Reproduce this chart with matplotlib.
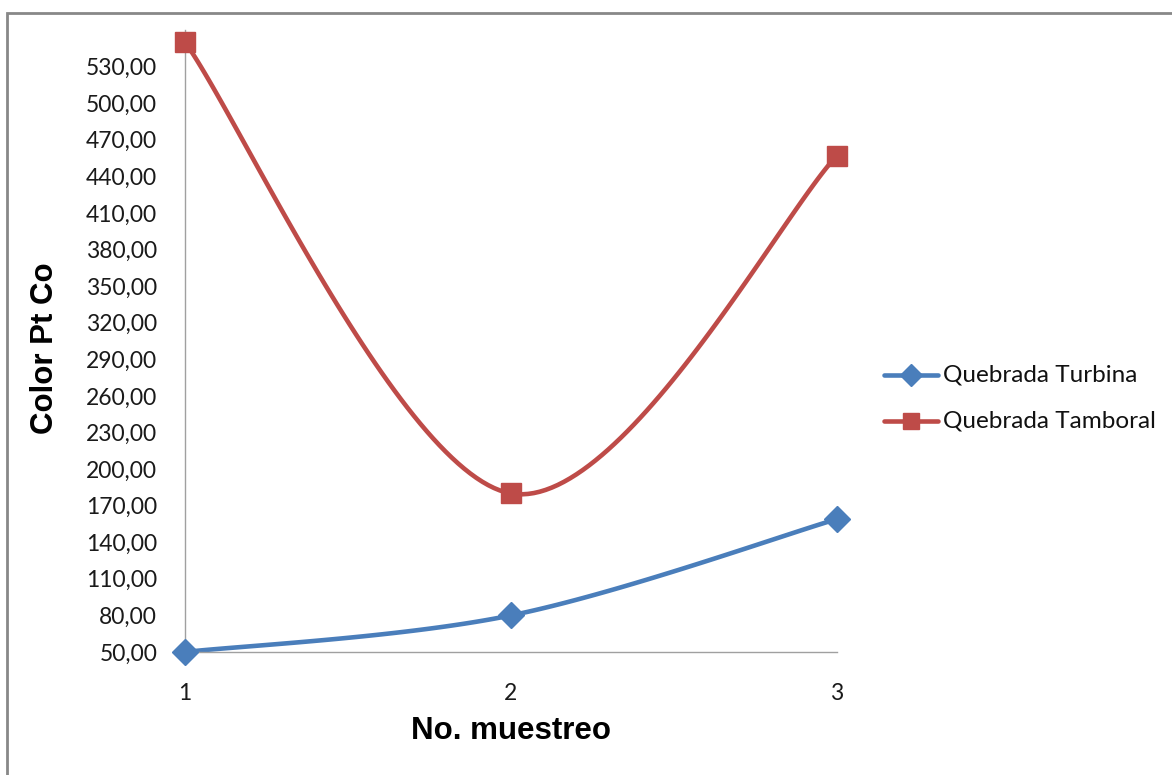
import numpy as np
import matplotlib.pyplot as plt
from matplotlib.patches import Rectangle
from matplotlib.ticker import FuncFormatter

muestreo = [1, 2, 3]
turbina = [50.0, 80.0, 159.0]
tamboral = [550.0, 180.0, 457.0]
y_ticks = list(range(50, 531, 30))

W, H = 1172, 775


def smooth(xs, ys, n=60):
    # Catmull-Rom style bezier smoothing, like spreadsheet "smoothed line"
    xs = np.asarray(xs, float)
    ys = np.asarray(ys, float)
    px = np.concatenate([[xs[0]], xs, [xs[-1]]])
    py = np.concatenate([[ys[0]], ys, [ys[-1]]])
    out_x, out_y = [], []
    t = np.linspace(0, 1, n)
    for i in range(1, len(px) - 2):
        p0 = np.array([px[i], py[i]])
        p3 = np.array([px[i + 1], py[i + 1]])
        c1 = p0 + (np.array([px[i + 1], py[i + 1]]) - np.array([px[i - 1], py[i - 1]])) / 6
        c2 = p3 - (np.array([px[i + 2], py[i + 2]]) - np.array([px[i], py[i]])) / 6
        b = ((1 - t) ** 3)[:, None] * p0 + (3 * (1 - t) ** 2 * t)[:, None] * c1 \
            + (3 * (1 - t) * t ** 2)[:, None] * c2 + (t ** 3)[:, None] * p3
        out_x.extend(b[:, 0])
        out_y.extend(b[:, 1])
    return out_x, out_y


fig = plt.figure(figsize=(W / 100, H / 100), dpi=100)
ax = fig.add_axes([185 / W, 1 - 652 / H, (837 - 185) / W, (652 - 30) / H])

blue = "#4A7EBB"
red = "#BE4B48"
tick_font = "Lato"

sx, sy = smooth(muestreo, turbina)
ax.plot(sx, sy, color=blue, linewidth=3.3, solid_capstyle="round", clip_on=False)
ax.plot(muestreo, turbina, linestyle="none", marker="D", markersize=13,
        color=blue, clip_on=False, zorder=3)
sx, sy = smooth(muestreo, tamboral)
ax.plot(sx, sy, color=red, linewidth=3.3, solid_capstyle="round", clip_on=False)
ax.plot(muestreo, tamboral, linestyle="none", marker="s", markersize=15,
        color=red, clip_on=False, zorder=3)

ax.set_xlim(1, 3)
ax.set_ylim(50, 560)
ax.set_xticks(muestreo)
ax.set_yticks(y_ticks)
ax.yaxis.set_major_formatter(FuncFormatter(lambda v, p: f"{v:.2f}".replace(".", ",")))
ax.tick_params(length=0, labelsize=16.5, colors="#1a1a1a")
ax.tick_params(axis="y", pad=20)
ax.tick_params(axis="x", pad=22)
for lab in ax.get_xticklabels() + ax.get_yticklabels():
    lab.set_family(tick_font)

for s in ["top", "right"]:
    ax.spines[s].set_visible(False)
for s in ["left", "bottom"]:
    ax.spines[s].set_color("#A0A0A0")
    ax.spines[s].set_linewidth(1)

fig.text(511 / W, 1 - 731 / H, "No. muestreo", ha="center", va="center",
         fontsize=22.5, fontweight="bold", family="Liberation Sans")
fig.text(45 / W, 1 - 348 / H, "Color Pt Co", ha="center", va="center", rotation=90,
         fontsize=22.5, fontweight="bold", family="Liberation Sans")

# legend entries on the right
for i, (lbl, col, mk, ms) in enumerate([("Quebrada Turbina", blue, "D", 11),
                                        ("Quebrada Tamboral", red, "s", 12)]):
    yy = 1 - (375 + i * 46) / H
    fig.add_artist(plt.Line2D([884 / W, 938 / W], [yy, yy], color=col, linewidth=3.3,
                              solid_capstyle="round"))
    fig.add_artist(plt.Line2D([911 / W], [yy], marker=mk, markersize=ms, color=col))
    fig.text(943 / W, yy, lbl, ha="left", va="center", fontsize=17.5,
             family=tick_font, color="#111111")

fig.add_artist(Rectangle((7 / W, -0.05), 1.1, 1 - 13 / H + 0.05, transform=fig.transFigure,
                         fill=False, edgecolor="#888888", linewidth=2))

fig.savefig("out.png", dpi=100)
